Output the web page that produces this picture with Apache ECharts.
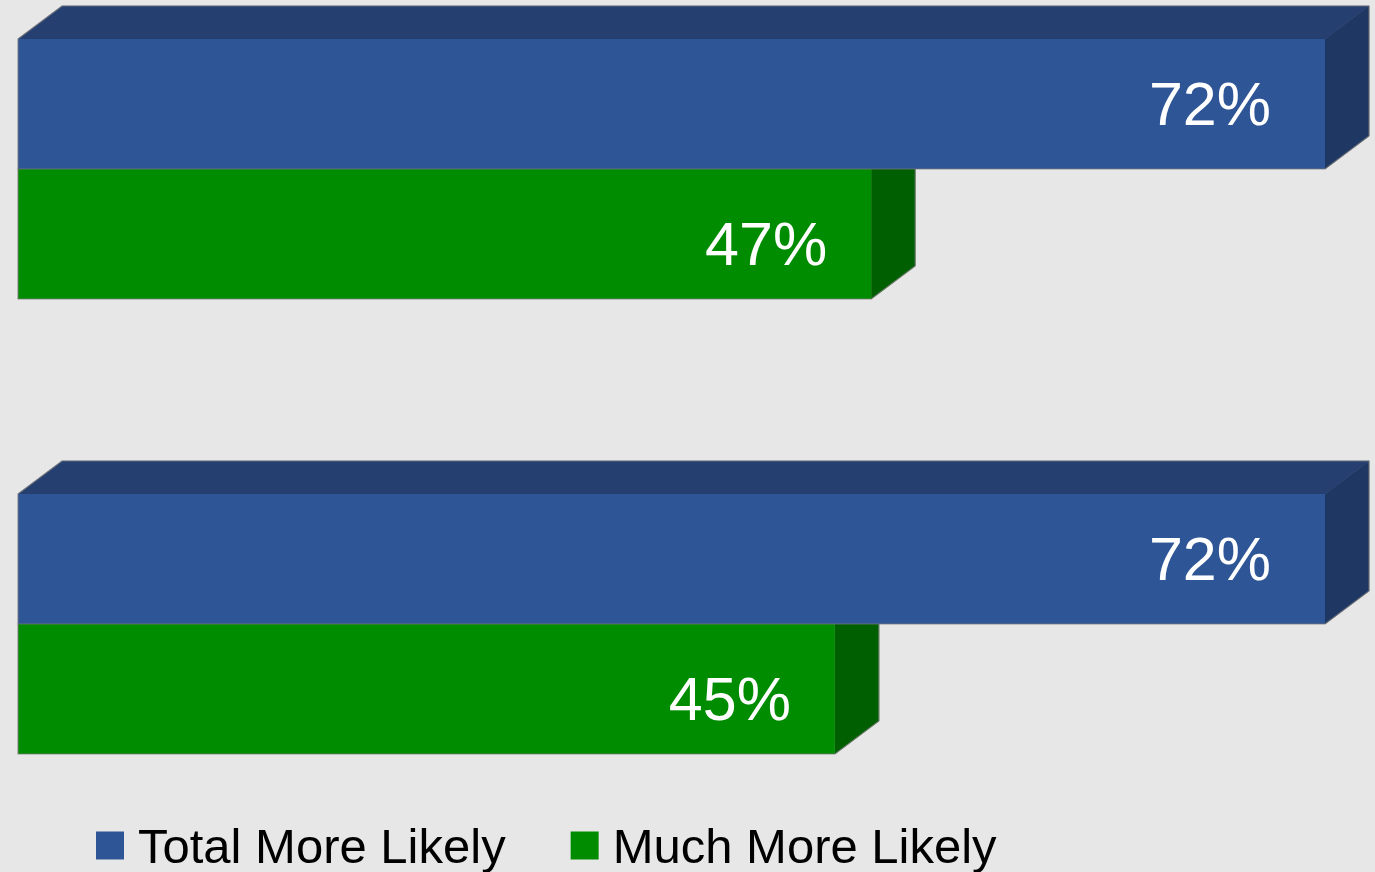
<!DOCTYPE html>
<html>
<head>
<meta charset="utf-8">
<style>
  html, body { margin: 0; padding: 0; background: #e7e7e7; }
  #chart { width: 1375px; height: 872px; }
</style>
<script src="https://cdn.jsdelivr.net/npm/echarts@6/dist/echarts.min.js"></script>
</head>
<body>
<div id="chart"></div>
<script>
// Two statements, each with a "total" and a "much" share (percent)
const categories = ['Statement 1', 'Statement 2'];
const seriesNames = ['Total More Likely', 'Much More Likely'];
const totalMoreLikely = [72, 72];
const muchMoreLikely = [47, 45];

// Pseudo-3D bar look
const BAR_H = 130;      // thickness of each bar's front face
const DEPTH_X = 44;     // extrusion offset to the right
const DEPTH_Y = -33;    // extrusion offset upward

const palettes = {
  total: { front: '#2e5596', top: '#253f70', side: '#1f3763' },
  much:  { front: '#008c00', top: '#006f00', side: '#005f00' }
};

function makeRenderer(kind) {
  const pal = palettes[kind];
  const above = kind === 'total';
  const labelInset = above ? 54 : 44;
  const labelShift = above ? 0 : 10;
  return function (params, api) {
    const value = api.value(0);
    const cat = api.value(1);
    const start = api.coord([0, cat]);
    const end = api.coord([value, cat]);
    const x0 = start[0], x1 = end[0];
    const yTop = above ? end[1] - BAR_H : end[1];
    const yBot = yTop + BAR_H;
    const top = [[x0, yTop], [x0 + DEPTH_X, yTop + DEPTH_Y], [x1 + DEPTH_X, yTop + DEPTH_Y], [x1, yTop]];
    const side = [[x1, yTop], [x1 + DEPTH_X, yTop + DEPTH_Y], [x1 + DEPTH_X, yBot + DEPTH_Y], [x1, yBot]];
    const outline = [[x0, yTop], [x0 + DEPTH_X, yTop + DEPTH_Y], [x1 + DEPTH_X, yTop + DEPTH_Y],
                     [x1 + DEPTH_X, yBot + DEPTH_Y], [x1, yBot], [x0, yBot]];
    return {
      type: 'group',
      children: [
        { type: 'polygon', shape: { points: top }, style: { fill: pal.top, stroke: pal.top, lineWidth: 0.5 } },
        { type: 'polygon', shape: { points: side }, style: { fill: pal.side, stroke: pal.side, lineWidth: 0.5 } },
        { type: 'rect', shape: { x: x0, y: yTop, width: x1 - x0, height: BAR_H }, style: { fill: pal.front } },
        { type: 'polygon', shape: { points: outline }, style: { fill: 'none', stroke: 'rgba(120,120,120,0.75)', lineWidth: 1.2 } },
        {
          type: 'text',
          style: {
            text: value + '%',
            x: x1 - labelInset,
            y: yTop + BAR_H / 2 + labelShift,
            align: 'right',
            verticalAlign: 'middle',
            fill: '#ffffff',
            font: '61px "Liberation Sans", Arial, sans-serif'
          }
        }
      ]
    };
  };
}

const chart = echarts.init(document.getElementById('chart'), null, { renderer: 'svg' });

chart.setOption({
  backgroundColor: '#e7e7e7',
  animation: false,
  grid: { left: 18, right: 50, top: 169, bottom: 248 },
  xAxis: { type: 'value', min: 0, max: 72, show: false },
  yAxis: { type: 'category', data: categories, inverse: true, boundaryGap: false, show: false },
  legend: {
    data: seriesNames,
    left: 91,
    top: 816,
    itemWidth: 28,
    itemHeight: 28,
    itemGap: 65,
    icon: 'rect',
    textStyle: {
      fontFamily: '"Liberation Sans", Arial, sans-serif',
      fontSize: 49,
      color: '#000000',
      padding: [0, 0, 0, 9]
    }
  },
  series: [
    {
      name: seriesNames[1],
      type: 'custom',
      z: 2,
      itemStyle: { color: palettes.much.front },
      renderItem: makeRenderer('much'),
      encode: { x: 0, y: 1 },
      data: muchMoreLikely.map((v, i) => [v, i])
    },
    {
      name: seriesNames[0],
      type: 'custom',
      z: 3,
      itemStyle: { color: palettes.total.front },
      renderItem: makeRenderer('total'),
      encode: { x: 0, y: 1 },
      data: totalMoreLikely.map((v, i) => [v, i])
    }
  ]
});
</script>
</body>
</html>
